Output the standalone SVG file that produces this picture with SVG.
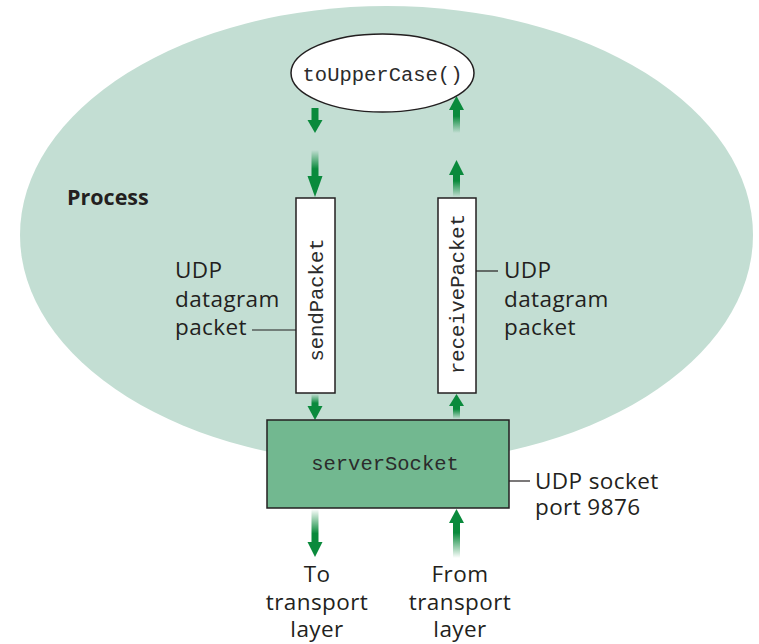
<svg xmlns="http://www.w3.org/2000/svg" width="759" height="644" viewBox="0 0 759 644">
<defs>
<linearGradient id="fadeTop" x1="0" y1="0" x2="0" y2="1">
<stop offset="0" stop-color="#0a8a3c" stop-opacity="0"/>
<stop offset="0.7" stop-color="#0a8a3c" stop-opacity="1"/>
</linearGradient>
<linearGradient id="fadeBottom" x1="0" y1="1" x2="0" y2="0">
<stop offset="0" stop-color="#0a8a3c" stop-opacity="0"/>
<stop offset="0.7" stop-color="#0a8a3c" stop-opacity="1"/>
</linearGradient>
<style>
.lbl{font-family:"Open Sans","Noto Sans","Liberation Sans",sans-serif;font-size:22.5px;letter-spacing:0.4px;fill:#231f20}
.mono{font-family:"Liberation Mono","DejaVu Sans Mono",monospace;font-size:20.5px;fill:#2b2b2b}
.box{fill:#ffffff;stroke:#231f20;stroke-width:1.5}
.lead{stroke:#231f20;stroke-width:1.2;fill:none}
.head{fill:#0a8a3c}
.solid{fill:#0a8a3c}
</style>
</defs>
<g id="process">
<ellipse cx="386.5" cy="235" rx="366.5" ry="229" fill="#c3ded3"/>
<text class="lbl" x="67" y="205" font-weight="bold" style="font-size:21.5px;letter-spacing:0">Process</text>
</g>
<g id="connectors">
<rect class="solid" x="311.5" y="108" width="7" height="13"/>
<polygon class="head" points="307.5,120 322.5,120 315,133"/>
<rect x="311.5" y="150" width="7" height="27" fill="url(#fadeTop)"/>
<polygon class="head" points="307.5,176 322.5,176 315,197"/>
<rect x="311.5" y="394" width="7" height="13" fill="url(#fadeTop)"/>
<polygon class="head" points="307.5,406 322.5,406 315,420"/>
<rect x="311.5" y="509" width="7" height="35" fill="url(#fadeTop)"/>
<polygon class="head" points="307.5,542 322.5,542 315,557"/>
<polygon class="head" points="449,110 464,110 456.5,96"/>
<rect x="453" y="109" width="7" height="24" fill="url(#fadeBottom)"/>
<polygon class="head" points="449,175 464,175 456.5,160"/>
<rect x="453" y="174" width="7" height="23" fill="url(#fadeBottom)"/>
<polygon class="head" points="449,406 464,406 456.5,394"/>
<rect x="453" y="405" width="7" height="14" fill="url(#fadeBottom)"/>
<polygon class="head" points="449,523 464,523 456.5,509"/>
<rect x="453" y="522" width="7" height="36" fill="url(#fadeBottom)"/>
<line class="lead" x1="252" y1="330" x2="296" y2="330"/>
<line class="lead" x1="476" y1="271" x2="498" y2="271"/>
<line class="lead" x1="509" y1="481" x2="530" y2="481"/>
</g>
<g id="toUpperCase">
<ellipse cx="382.5" cy="73" rx="91.5" ry="39" fill="#ffffff" stroke="#231f20" stroke-width="1.5"/>
<text class="mono" x="382.5" y="81" text-anchor="middle">toUpperCase()</text>
</g>
<g id="sendPacket">
<rect class="box" x="296" y="198" width="39" height="195"/>
<text class="mono" transform="translate(323,300) rotate(-90)" text-anchor="middle">sendPacket</text>
</g>
<g id="receivePacket">
<rect class="box" x="438" y="198" width="38" height="195"/>
<text class="mono" transform="translate(464,294) rotate(-90)" text-anchor="middle">receivePacket</text>
</g>
<g id="serverSocket">
<rect x="267" y="420" width="242" height="88" fill="#72b890" stroke="#231f20" stroke-width="1.5"/>
<text class="mono" x="385" y="470" text-anchor="middle">serverSocket</text>
</g>
<g id="labels">
<text class="lbl" x="175" y="278">UDP</text>
<text class="lbl" x="175" y="307">datagram</text>
<text class="lbl" x="175" y="335">packet</text>
<text class="lbl" x="504" y="278">UDP</text>
<text class="lbl" x="504" y="307">datagram</text>
<text class="lbl" x="504" y="335">packet</text>
<text class="lbl" x="535" y="489">UDP socket</text>
<text class="lbl" x="535" y="515">port 9876</text>
<text class="lbl" x="317" y="582" text-anchor="middle">To</text>
<text class="lbl" x="317" y="610" text-anchor="middle">transport</text>
<text class="lbl" x="317" y="637" text-anchor="middle">layer</text>
<text class="lbl" x="460" y="582" text-anchor="middle">From</text>
<text class="lbl" x="460" y="610" text-anchor="middle">transport</text>
<text class="lbl" x="460" y="637" text-anchor="middle">layer</text>
</g>
</svg>
